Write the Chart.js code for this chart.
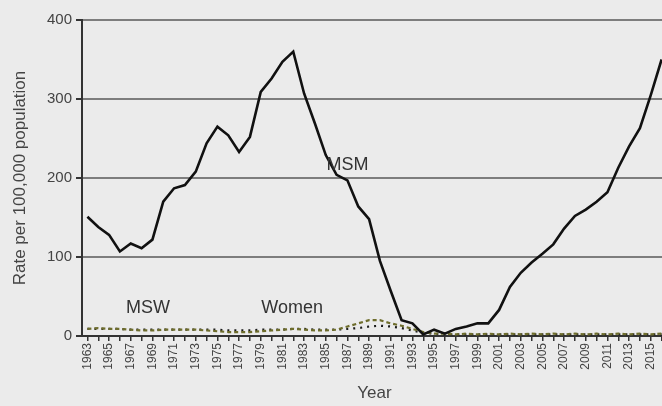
<!DOCTYPE html>
<html>
<head>
<meta charset="utf-8">
<script src="https://cdn.jsdelivr.net/npm/chart.js@4.4.1/dist/chart.umd.min.js"></script>
<style>
  body { margin: 0; background: #ebebeb; overflow: hidden; }
  canvas { display: block; }
</style>
</head>
<body>
<canvas id="rates-graph" width="678" height="406"></canvas>
<script>
// years 1963..2016
const years = [];
for (let y = 1963; y <= 2016; y++) years.push(String(y));

const msm = [151, 138, 128, 107, 117, 111, 122, 170, 187, 191,
             208, 244, 265, 254, 233, 252, 309, 326, 347, 360,
             307, 269, 229, 204, 197, 164, 148, 95, 57, 20,
             16, 2, 8, 3, 9, 12, 16, 16, 33, 62,
             80, 93, 104, 116, 136, 152, 160, 170, 182, 213,
             240, 263, 305, 350];

const msw = [9, 9, 9, 9, 8, 8, 8, 8, 8, 8,
             8, 8, 8, 7, 7, 7, 8, 8, 8, 9,
             9, 8, 8, 8, 9, 10, 12, 13, 12, 10,
             7, 4, 3, 2, 2, 2, 2, 2, 2, 2,
             2, 2, 2, 2, 2, 2, 2, 2, 2, 2,
             2, 2, 2, 2];

const women = [9, 10, 9, 9, 8, 7, 7, 8, 8, 8,
               8, 7, 6, 5, 5, 5, 6, 7, 8, 9,
               8, 7, 7, 8, 12, 16, 20, 20, 16, 13,
               9, 5, 3, 3, 2, 3, 2, 3, 2, 3,
               2, 3, 2, 3, 2, 3, 2, 3, 2, 3,
               2, 3, 2, 3];

const yTicks = [0, 100, 200, 300, 400];

// series labels written on the plot (x as year index, y as rate)
const notes = [
  { text: "MSM", x: 24.0, y: 216 },
  { text: "MSW", x: 5.6, y: 36 },
  { text: "Women", x: 18.9, y: 36 }
];

const FONT = "'Liberation Sans', Arial, sans-serif";

const notePlugin = {
  id: "notes",
  afterDatasetsDraw(chart) {
    const ctx = chart.ctx;
    const xs = chart.scales.x, ys = chart.scales.y;
    ctx.save();
    ctx.fillStyle = "#333";
    ctx.font = "18px " + FONT;
    ctx.textAlign = "center";
    ctx.textBaseline = "middle";
    notes.forEach(n => {
      ctx.fillText(n.text, xs.getPixelForValue(n.x), ys.getPixelForValue(n.y));
    });
    ctx.restore();
  }
};

new Chart("rates-graph", {
  type: "line",
  data: {
    labels: years,
    datasets: [
      {
        label: "MSM",
        data: msm,
        borderColor: "#111",
        borderWidth: 2.6,
        pointRadius: 0,
        tension: 0
      },
      {
        label: "Women",
        data: women,
        borderColor: "#6e6d2c",
        borderWidth: 2.2,
        borderDash: [4, 3],
        pointRadius: 0
      },
      {
        label: "MSW",
        data: msw,
        borderColor: "#1a1a1a",
        borderWidth: 2.2,
        borderDash: [2, 5],
        pointRadius: 0
      }
    ]
  },
  options: {
    responsive: false,
    animation: false,
    layout: { padding: { top: 20, right: 0, left: 0, bottom: 0 } },
    plugins: {
      legend: { display: false },
      tooltip: { enabled: false }
    },
    scales: {
      x: {
        offset: true,
        afterFit: s => { s.height = 70; },
        border: { color: "#333", width: 2 },
        grid: {
          drawOnChartArea: false,
          tickLength: 5,
          tickColor: "#333",
          lineWidth: 1.5
        },
        ticks: {
          autoSkip: false,
          minRotation: 90,
          maxRotation: 90,
          padding: 2,
          color: "#444",
          font: { family: FONT, size: 12 },
          callback: (v, i) => (Number(years[i]) % 2 === 1 ? years[i] : "")
        },
        title: {
          display: true,
          text: "Year",
          color: "#444",
          font: { family: FONT, size: 17 },
          padding: { top: 0, bottom: 2 }
        }
      },
      y: {
        min: 0,
        max: 400,
        afterFit: s => { s.width = 82; },
        afterBuildTicks: s => { s.ticks = yTicks.map(v => ({ value: v })); },
        border: { color: "#333", width: 2 },
        grid: {
          color: ctx => (ctx.tick && ctx.tick.value === 0 ? "rgba(0,0,0,0)" : "#7d7d7d"),
          lineWidth: 2,
          tickLength: 6,
          tickColor: "#333"
        },
        ticks: {
          padding: 4,
          color: "#444",
          font: { family: FONT, size: 15 }
        },
        title: {
          display: true,
          text: "Rate per 100,000 population",
          color: "#444",
          font: { family: FONT, size: 17 },
          padding: { top: 10, bottom: 0 }
        }
      }
    }
  },
  plugins: [notePlugin]
});
</script>
</body>
</html>
